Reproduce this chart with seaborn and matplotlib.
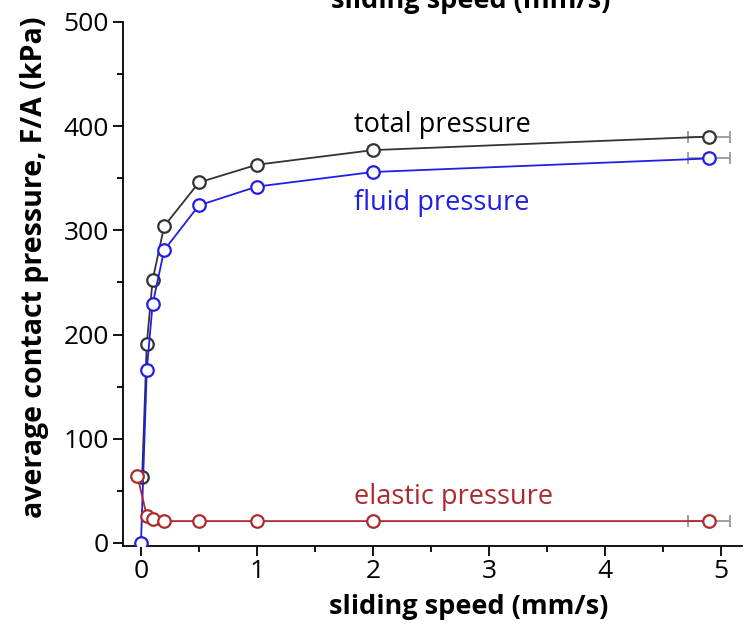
import matplotlib
matplotlib.use("Agg")
import matplotlib.pyplot as plt
import seaborn as sns
import pandas as pd
from matplotlib.ticker import MultipleLocator

# data
speed_total = [0.01, 0.05, 0.1, 0.2, 0.5, 1.0, 2.0, 4.9]
total_pressure = [63, 191, 252, 304, 346, 363, 377, 390]
speed_fluid = [0.0, 0.05, 0.1, 0.2, 0.5, 1.0, 2.0, 4.9]
fluid_pressure = [0, 166, 229, 281, 324, 342, 356, 369]
speed_elastic = [-0.03, 0.05, 0.1, 0.2, 0.5, 1.0, 2.0, 4.9]
elastic_pressure = [64, 26, 23, 21, 21, 21, 21, 21]
speed_err_last = 0.18

series_names = ["total pressure", "fluid pressure", "elastic pressure"]
series_colors = ["#333333", "#1f1fe6", "#ad2a2e"]

sns.set_style("ticks")
plt.rcParams['font.family'] = ['Open Sans', 'DejaVu Sans']
for k in ["text.color", "axes.labelcolor", "xtick.color", "ytick.color"]:
    plt.rcParams[k] = "black"

fig = plt.figure(figsize=(7.5, 6.27), dpi=100)
ax = fig.add_axes([0.164, 0.129, 0.825, 0.836])

frames = [
    pd.DataFrame({"speed": speed_total, "pressure": total_pressure}),
    pd.DataFrame({"speed": speed_fluid, "pressure": fluid_pressure}),
    pd.DataFrame({"speed": speed_elastic, "pressure": elastic_pressure}),
]

for df, name, col in zip(frames, series_names, series_colors):
    last = df.iloc[-1]
    ax.errorbar(last["speed"], last["pressure"], xerr=speed_err_last, fmt="none",
                ecolor="#999999", elinewidth=1.3, capsize=4.5, capthick=1.3, zorder=1)
    sns.lineplot(data=df, x="speed", y="pressure", ax=ax, color=col, lw=1.3,
                 marker="o", markersize=9, markerfacecolor="white",
                 markeredgecolor=col, markeredgewidth=1.6, sort=False,
                 estimator=None, zorder=3)

ax.text(1.84, 394, "total pressure", color="black", fontsize=19.5,
        ha="left", va="baseline")
ax.text(1.84, 320, "fluid pressure", color=series_colors[1], fontsize=19.5,
        ha="left", va="baseline")
ax.text(1.84, 37, "elastic pressure", color=series_colors[2], fontsize=19.5,
        ha="left", va="baseline")

ax.set_xlim(-0.155, 5.18)
ax.set_ylim(-3, 500)
ax.set_xticks([0, 1, 2, 3, 4, 5])
ax.set_yticks([0, 100, 200, 300, 400, 500])
ax.xaxis.set_minor_locator(MultipleLocator(0.5))
ax.yaxis.set_minor_locator(MultipleLocator(50))
ax.tick_params(which="major", length=7, width=1.3, labelsize=19, color="black", pad=2)
ax.tick_params(axis="y", which="major", pad=3)
ax.tick_params(which="minor", length=4.5, width=1.3, color="black")
for s in ["top", "right"]:
    ax.spines[s].set_visible(False)
for s in ["left", "bottom"]:
    ax.spines[s].set_linewidth(1.3)
    ax.spines[s].set_color("black")

ax.set_xlabel("sliding speed (mm/s)", fontsize=19.5, fontweight="bold")
ax.set_ylabel("average contact pressure, F/A (kPa)", fontsize=20.5, fontweight="bold")
ax.xaxis.set_label_coords((469 - 123) / 619, -(607 - 546) / 524)
ax.yaxis.set_label_coords(-(123 - 34) / 619, (546 - 267) / 524)
ax.xaxis.label.set_va("center")
ax.yaxis.label.set_va("center")

fig.text(0.627, 1 - 8 / 627, "sliding speed (mm/s)", fontsize=19.5, fontweight="bold",
         ha="center", va="baseline")

fig.savefig("out.png", dpi=100)
